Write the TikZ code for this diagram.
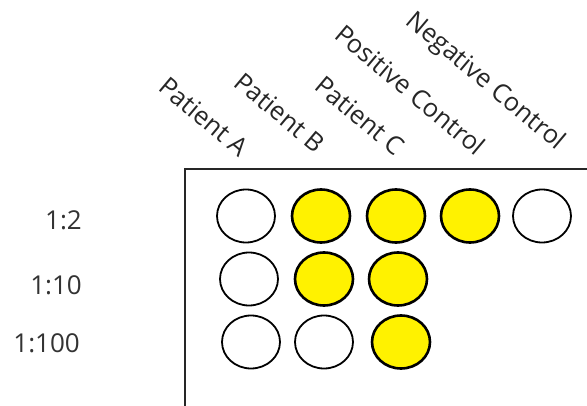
\documentclass[tikz,border=0pt]{standalone}
\usepackage{fontspec}
\setmainfont{Open Sans}
\usetikzlibrary{shapes.geometric}
\begin{document}
\begin{tikzpicture}[x=1pt,y=-1pt,
  well/.style={draw=black,ellipse,minimum width=58pt,minimum height=53pt,inner sep=0pt},
  wellw/.style={well,line width=1.8pt,fill=white},
  welly/.style={well,line width=2.6pt,fill=yellow},
  dil/.style={anchor=east,font=\fontsize{26}{30}\selectfont,text=black!80,inner sep=0pt},
  col/.style={anchor=base east,rotate=-40,font=\fontsize{25.5}{30}\selectfont,text=black!85,inner sep=0pt}]
\useasboundingbox (0,0) rectangle (587,406);
\draw[line width=2.2pt,draw=black!85] (185,410) -- (185,169) -- (592,169);
% wells
\node[wellw] (a1) at (246,216) {};
\node[welly] (b1) at (321,216) {};
\node[welly] (c1) at (396,216) {};
\node[welly] (p1) at (470,216) {};
\node[wellw] (n1) at (542,216) {};
\node[wellw] (a2) at (249,279) {};
\node[welly] (b2) at (324,279) {};
\node[welly] (c2) at (398,279) {};
\node[wellw] (a3) at (251,342) {};
\node[wellw] (b3) at (324,342) {};
\node[welly] (c3) at (401,342) {};
% dilution labels
\node[dil] (d1) at (82,220) {1:2};
\node[dil] (d2) at (82,285) {1:10};
\node[dil] (d3) at (80,343) {1:100};
% column labels
\node[col] (la) at (239,158) {Patient A};
\node[col] (lb) at (315,154) {Patient B};
\node[col] (lc) at (395,157) {Patient C};
\node[col] (lp) at (476,157) {Positive Control};
\node[col] (ln) at (557,151) {Negative Control};
\end{tikzpicture}
\end{document}
